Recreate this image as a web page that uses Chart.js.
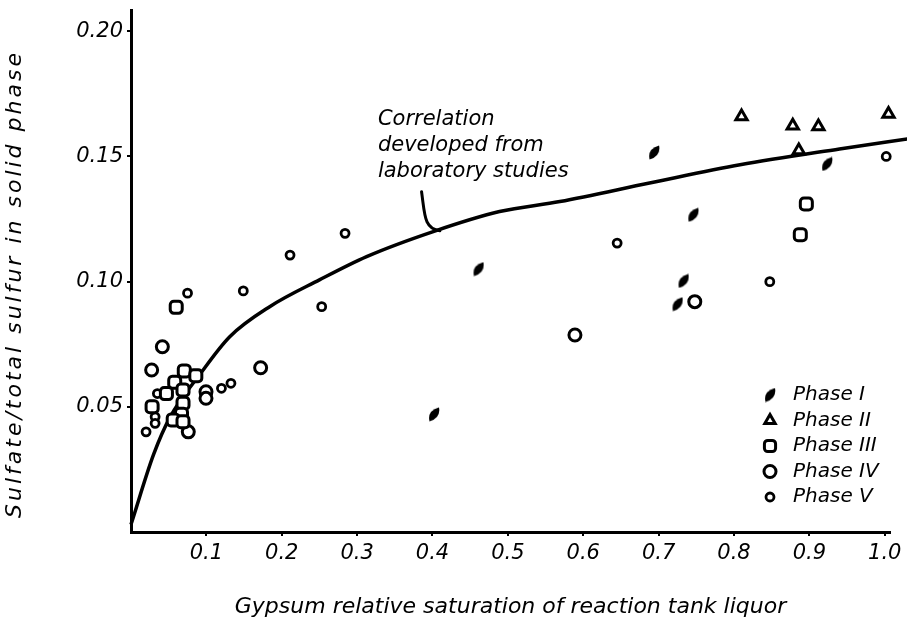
<!DOCTYPE html>
<html>
<head>
<meta charset="utf-8">
<script src="https://cdn.jsdelivr.net/npm/chart.js@4.4.1/dist/chart.umd.min.js"></script>
<style>
html, body { margin: 0; padding: 0; background: #fff; }
</style>
</head>
<body>
<canvas id="chart" width="907" height="626"></canvas>
<script>
// tick labels
const xTicks = [0.1, 0.2, 0.3, 0.4, 0.5, 0.6, 0.7, 0.8, 0.9, 1.0];
const yTicks = [0.05, 0.10, 0.15, 0.20];

// correlation curve
const curveX = [0, 0.03, 0.052, 0.0915, 0.131, 0.184, 0.25, 0.3126, 0.401, 0.489, 0.569, 0.688, 0.808, 0.94, 1.03];
const curveY = [0.003, 0.031, 0.046, 0.063, 0.078, 0.090, 0.1007, 0.110, 0.120, 0.128, 0.132, 0.1394, 0.1467, 0.153, 0.157];

// measured points [x, y]
const phaseI = [[0.461, 0.105], [0.402, 0.047], [0.694, 0.1516], [0.746, 0.1267], [0.733, 0.1003], [0.725, 0.091], [0.9235, 0.147]];
const phaseII = [[0.81, 0.166], [0.878, 0.1623], [0.912, 0.162], [1.005, 0.167], [0.886, 0.1524]];
const phaseIII = [[0.060, 0.0898], [0.0707, 0.0643], [0.086, 0.0624], [0.058, 0.0598], [0.047, 0.0553], [0.069, 0.0567],
    [0.069, 0.0514], [0.028, 0.050], [0.067, 0.047], [0.056, 0.0447], [0.069, 0.044], [0.896, 0.131], [0.888, 0.1187]];
const phaseIV = [[0.0416, 0.074], [0.0274, 0.0647], [0.172, 0.0656], [0.076, 0.040], [0.0995, 0.056], [0.0995, 0.0534], [0.589, 0.0787], [0.748, 0.092]];
const phaseV = [[0.075, 0.0954], [0.149, 0.0963], [0.211, 0.1106], [0.253, 0.090], [0.284, 0.1193], [0.645, 0.1154], [0.8475, 0.100],
    [1.002, 0.150], [0.12, 0.0574], [0.1326, 0.0594], [0.035, 0.0553], [0.032, 0.046], [0.032, 0.0434], [0.020, 0.040]];

const noteLines = ['Correlation', 'developed from', 'laboratory studies'];
const yTitle = 'Sulfate/total sulfur in solid phase';

const FONT = "'DejaVu Sans', sans-serif";

function pts(arr) {
    return arr.map(p => ({x: p[0], y: p[1]}));
}

// filled slanted leaf used for Phase I
function makeLeaf() {
    const c = document.createElement('canvas');
    c.width = 12; c.height = 15;
    const g = c.getContext('2d');
    g.fillStyle = '#000';
    g.beginPath();
    g.moveTo(1.5, 14.5);
    g.quadraticCurveTo(-1, 4, 11, 0.5);
    g.quadraticCurveTo(13, 11, 1.5, 14.5);
    g.fill();
    return c;
}
const leaf = makeLeaf();

const common = {
    type: 'scatter',
    showLine: false,
    borderColor: '#000',
    backgroundColor: '#fff',
    pointHoverRadius: 0,
    clip: false
};

const datasets = [
    Object.assign({}, common, {label: 'Phase I', data: pts(phaseI), pointStyle: leaf, pointRadius: 6, pointBorderWidth: 0, backgroundColor: '#000'}),
    Object.assign({}, common, {label: 'Phase II', data: pts(phaseII), pointStyle: 'triangle', pointRadius: 6.5, pointBorderWidth: 3}),
    Object.assign({}, common, {label: 'Phase III', data: pts(phaseIII), pointStyle: 'rectRounded', pointRadius: 7, pointBorderWidth: 3}),
    Object.assign({}, common, {label: 'Phase IV', data: pts(phaseIV), pointStyle: 'circle', pointRadius: 6, pointBorderWidth: 3}),
    Object.assign({}, common, {label: 'Phase V', data: pts(phaseV), pointStyle: 'circle', pointRadius: 4, pointBorderWidth: 2.8}),
    {
        type: 'line',
        label: 'Correlation',
        data: curveX.map((x, i) => ({x: x, y: curveY[i]})),
        borderColor: '#000',
        borderWidth: 3.5,
        pointRadius: 0,
        cubicInterpolationMode: 'monotone',
        fill: false,
        clip: false,
        order: 10
    }
];

// legend, note and y title drawn by hand, the figure has them inside the plot
const extras = {
    id: 'extras',
    afterDatasetsDraw(chart) {
        const ctx = chart.ctx;
        const xs = chart.scales.x, ys = chart.scales.y;
        const area = chart.chartArea;
        ctx.save();
        ctx.fillStyle = '#000';
        ctx.strokeStyle = '#000';
        ctx.font = 'italic 21px ' + FONT;
        ctx.textBaseline = 'middle';

        // note
        const noteX = xs.getPixelForValue(0.3276);
        [0.1647, 0.1543, 0.1440].forEach((v, i) => {
            ctx.fillText(noteLines[i], noteX, ys.getPixelForValue(v));
        });
        ctx.lineWidth = 3;
        ctx.lineCap = 'round';
        ctx.beginPath();
        ctx.moveTo(xs.getPixelForValue(0.3855), ys.getPixelForValue(0.1359));
        ctx.bezierCurveTo(xs.getPixelForValue(0.3899), ys.getPixelForValue(0.1267),
            xs.getPixelForValue(0.3886), ys.getPixelForValue(0.1211),
            xs.getPixelForValue(0.4098), ys.getPixelForValue(0.1203));
        ctx.stroke();

        // legend
        ctx.font = 'italic 20px ' + FONT;
        chart.data.datasets.slice(0, 5).forEach((ds, i) => {
            const y = area.bottom - 137 + i * 25.5;
            const mx = area.right - 120;
            ctx.fillStyle = ds.backgroundColor;
            ctx.strokeStyle = '#000';
            ctx.lineWidth = ds.pointBorderWidth;
            Chart.helpers.drawPoint(ctx, {
                pointStyle: ds.pointStyle,
                radius: ds.pointStyle === 'circle' ? ds.pointRadius : ds.pointRadius - 0.5,
                rotation: 0,
                borderWidth: ds.pointBorderWidth
            }, mx, y);
            ctx.fillStyle = '#000';
            ctx.fillText(ds.label, mx + 23, y);
        });

        // y title, spaced out like the original lettering
        ctx.translate(15, 284);
        ctx.rotate(-Math.PI / 2);
        ctx.font = 'italic 22px ' + FONT;
        ctx.letterSpacing = '3px';
        ctx.textAlign = 'center';
        ctx.fillText(yTitle, 0, 0);
        ctx.restore();
    }
};

new Chart(document.getElementById('chart'), {
    type: 'scatter',
    data: {datasets: datasets},
    options: {
        responsive: false,
        animation: false,
        layout: {padding: {top: 10, right: 17, left: 0, bottom: 0}},
        plugins: {
            legend: {display: false},
            tooltip: {enabled: false}
        },
        scales: {
            x: {
                type: 'linear',
                min: 0,
                max: 1.007,
                afterFit: (s) => { s.height = 94; },
                afterBuildTicks: (s) => { s.ticks = xTicks.map(v => ({value: v})); },
                border: {display: true, color: '#000', width: 3},
                grid: {display: true, drawOnChartArea: false, drawTicks: true, tickLength: 4, color: '#000', lineWidth: 2},
                ticks: {
                    color: '#000',
                    padding: 5,
                    maxRotation: 0,
                    font: {family: FONT, size: 21, style: 'italic'},
                    callback: (v) => Number(v).toFixed(1)
                },
                title: {
                    display: true,
                    text: 'Gypsum relative saturation of reaction tank liquor',
                    color: '#000',
                    font: {family: FONT, size: 22, style: 'italic'},
                    padding: {top: 0, bottom: 6}
                }
            },
            y: {
                type: 'linear',
                min: 0,
                max: 0.2085,
                afterFit: (s) => { s.width = 131; s.paddingTop = 0; s.paddingBottom = 0; },
                afterBuildTicks: (s) => { s.ticks = yTicks.map(v => ({value: v})); },
                border: {display: true, color: '#000', width: 3},
                grid: {display: true, drawOnChartArea: false, drawTicks: true, tickLength: 4, color: '#000', lineWidth: 2},
                ticks: {
                    color: '#000',
                    padding: 4,
                    font: {family: FONT, size: 21, style: 'italic'},
                    callback: (v) => Number(v).toFixed(2)
                }
            }
        }
    },
    plugins: [extras]
});
</script>
</body>
</html>
